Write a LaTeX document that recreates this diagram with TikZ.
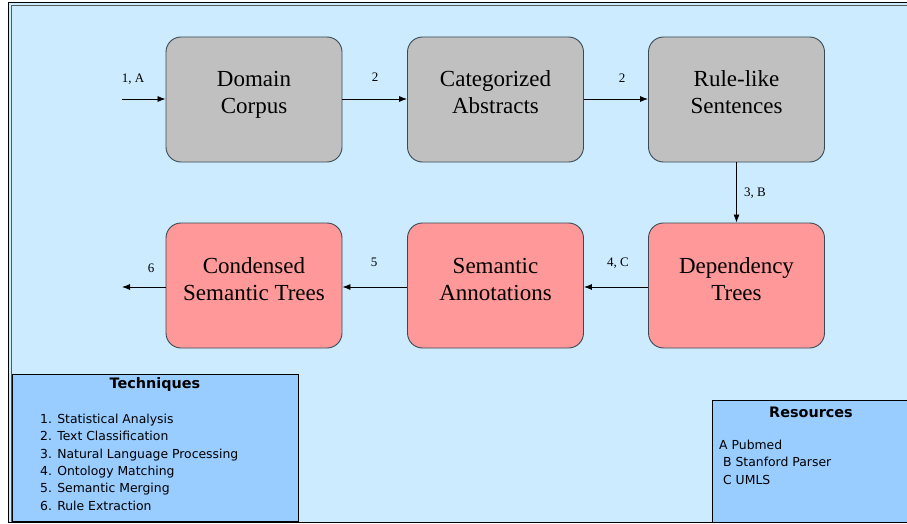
\documentclass[tikz,border=0pt]{standalone}
\usepackage{fontspec}
\setmainfont{Liberation Serif}
\newfontfamily\legendfont{DejaVu Sans}
\usetikzlibrary{arrows.meta}
\definecolor{bgblue}{HTML}{CCEBFF}
\definecolor{boxgray}{HTML}{C0C0C0}
\definecolor{boxpink}{HTML}{FF9999}
\definecolor{legblue}{HTML}{99CCFF}
\definecolor{edgec}{HTML}{3A4A55}
\newcommand{\stagelines}[2]{{\fontsize{23}{27}\selectfont\setlength{\tabcolsep}{0pt}\begin{tabular}[t]{c}#1\\#2\end{tabular}}}
\newcommand{\leglines}[1]{{\setlength{\tabcolsep}{0pt}\begin{tabular}[t]{l}#1\end{tabular}}}
\tikzset{
  stage/.style={draw=edgec, line width=0.9pt, rounded corners=15pt, minimum width=176pt, minimum height=125pt, inner sep=0pt},
  graystage/.style={stage, fill=boxgray},
  pinkstage/.style={stage, fill=boxpink},
  stagetext/.style={anchor=base, inner sep=0pt},
  flow/.style={draw=black, line width=0.8pt, -{Latex[length=8pt,width=6pt]}},
  lbl/.style={font=\fontsize{13}{15}\selectfont, inner sep=0pt},
  legbox/.style={draw=black, line width=0.9pt, fill=legblue},
  legtitle/.style={font=\legendfont\bfseries\fontsize{14.4}{16}\selectfont, inner sep=0pt},
  legitem/.style={font=\legendfont\fontsize{12.4}{17.3}\selectfont, anchor=base west, inner sep=0pt}
}
\begin{document}
\begin{tikzpicture}[x=1pt,y=-1pt]
\useasboundingbox (0,0) rectangle (907,524);
\fill[white] (0,0) rectangle (907,524);
% frame
\fill[bgblue] (8,2) rectangle (910,523);
\draw[black, line width=1pt] (8,2.5) -- (910,2.5);
\draw[black, line width=1pt] (8.5,2) -- (8.5,523);
\draw[gray!70!black, line width=0.8pt] (11.5,5.5) -- (910,5.5);
\draw[gray!70!black, line width=0.8pt] (11.5,5.5) -- (11.5,523);
\draw[black, line width=1pt] (8,522.5) -- (910,522.5);
% stages
\node[graystage] (dc) at (254,99.5) {};
\node[graystage] (ca) at (495.5,99.5) {};
\node[graystage] (rs) at (736.5,99.5) {};
\node[pinkstage] (cs) at (254,285.5) {};
\node[pinkstage] (sa) at (495.5,285.5) {};
\node[pinkstage] (dt) at (736.5,285.5) {};
\node[stagetext] (dct) at (254,87) {\stagelines{Domain}{Corpus}};
\node[stagetext] (cat) at (495.5,87) {\stagelines{Categorized}{Abstracts}};
\node[stagetext] (rst) at (736.5,87) {\stagelines{Rule-like}{Sentences}};
\node[stagetext] (cst) at (254,273) {\stagelines{Condensed}{Semantic Trees}};
\node[stagetext] (sat) at (495.5,273) {\stagelines{Semantic}{Annotations}};
\node[stagetext] (dtt) at (736.5,273) {\stagelines{Dependency}{Trees}};
% connectors
\coordinate (in) at (122,99);
\coordinate (out) at (122,287);
\draw[flow] (in) -- (dc.west |- in);
\draw[flow] (dc.east |- in) -- (ca.west |- in);
\draw[flow] (ca.east |- in) -- (rs.west |- in);
\draw[flow] (rs.south) -- (dt.north);
\draw[flow] (dt.west |- out) -- (sa.east |- out);
\draw[flow] (sa.west |- out) -- (cs.east |- out);
\draw[flow] (cs.west |- out) -- (out);
\node[lbl] (l1) at (133,79) {1, A};
\node[lbl] (l2) at (375,77) {2};
\node[lbl] (l3) at (622,78) {2};
\node[lbl] (l4) at (755,193) {3, B};
\node[lbl] (l5) at (618,263) {4, C};
\node[lbl] (l6) at (374,262) {5};
\node[lbl] (l7) at (151,268) {6};
% legends
\node[legbox, minimum width=286pt, minimum height=147pt, anchor=north west, inner sep=0pt] (tech) at (12,374) {};
\node[legtitle] (techt) at (155,385) {Techniques};
\node[legitem] (techi) at (40,423.5) {\leglines{1. Statistical Analysis\\2. Text Classification\\3. Natural Language Processing\\4. Ontology Matching\\5. Semantic Merging\\6. Rule Extraction}};
\node[legbox, minimum width=196pt, minimum height=122pt, anchor=north west, inner sep=0pt] (res) at (712,400) {};
\node[legtitle] (rest) at (811,412) {Resources};
\node[legitem] (resi) at (719,449.5) {\leglines{A Pubmed\\\ B Stanford Parser\\\ C UMLS}};
\end{tikzpicture}
\end{document}
